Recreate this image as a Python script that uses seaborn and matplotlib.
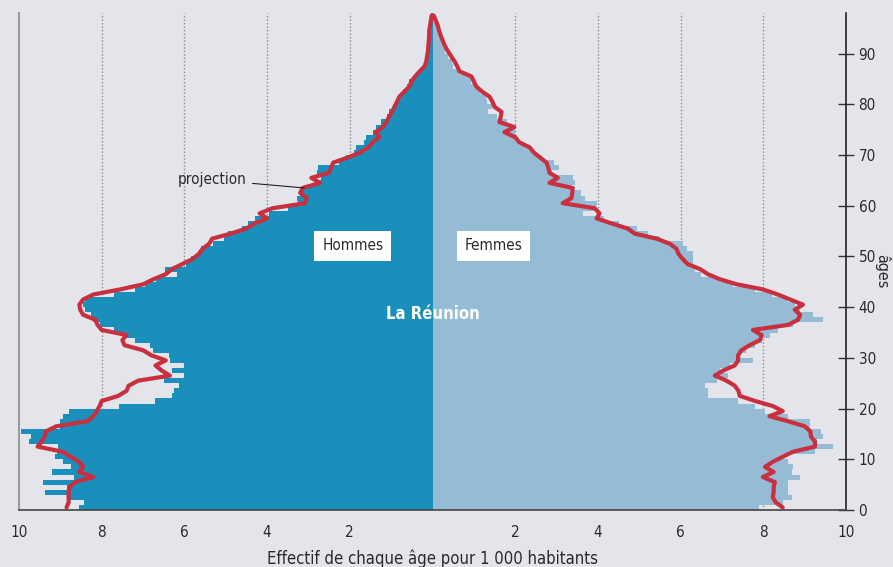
import numpy as np
import pandas as pd
import matplotlib
matplotlib.use("Agg")
import matplotlib.pyplot as plt
import seaborn as sns
from matplotlib import font_manager

# ==========================
# DONNÉES (pour 1 000 habitants)
# ==========================
ages = list(range(0, 98))

hommes = [8.56, 8.44, 8.83, 9.38, 8.83, 9.42, 8.66, 9.20, 8.75, 8.94,
          9.14, 9.09, 9.05, 9.75, 9.70, 9.94, 9.00, 9.00, 8.94, 8.78,
          7.57, 6.70, 6.30, 6.26, 6.12, 6.50, 6.02, 6.31, 6.02, 6.35,
          6.38, 6.75, 6.82, 7.20, 7.40, 7.70, 8.05, 8.20, 8.27, 8.40,
          8.46, 8.40, 7.70, 7.20, 6.96, 6.68, 6.17, 6.48, 5.95, 5.83,
          5.64, 5.60, 5.32, 5.05, 4.95, 4.60, 4.45, 4.30, 3.95, 3.50,
          3.25, 3.27, 3.15, 3.10, 2.75, 2.70, 2.80, 2.78, 2.25, 2.08,
          1.90, 1.85, 1.65, 1.60, 1.45, 1.36, 1.25, 1.10, 1.05, 0.95,
          0.87, 0.78, 0.72, 0.62, 0.56, 0.42, 0.30, 0.20, 0.16, 0.14,
          0.12, 0.10, 0.09, 0.07, 0.06, 0.05, 0.04, 0.03]

femmes = [7.89, 8.47, 8.69, 8.60, 8.60, 8.60, 8.89, 8.69, 8.72, 8.60,
          8.45, 9.25, 9.68, 9.30, 9.44, 9.39, 9.13, 9.13, 8.60, 8.05,
          7.80, 7.39, 6.66, 6.66, 6.59, 6.87, 7.15, 6.95, 7.20, 7.75,
          7.39, 7.59, 7.80, 7.97, 8.16, 8.35, 8.72, 9.44, 9.20, 8.89,
          8.76, 8.57, 8.20, 7.80, 7.26, 6.95, 6.49, 6.34, 6.30, 6.30,
          6.30, 6.15, 6.05, 5.50, 5.20, 4.95, 4.50, 4.15, 3.65, 3.95,
          3.97, 3.70, 3.60, 3.35, 3.45, 3.40, 2.90, 3.05, 2.95, 2.65,
          2.45, 2.35, 2.10, 2.05, 2.00, 1.82, 1.80, 1.57, 1.35, 1.45,
          1.33, 1.30, 1.14, 1.10, 0.94, 0.90, 0.65, 0.50, 0.48, 0.37,
          0.30, 0.25, 0.20, 0.16, 0.13, 0.10, 0.07, 0.04]

proj_hommes = [8.85, 8.80, 8.80, 8.80, 8.78, 8.65, 8.20, 8.55, 8.45, 8.55,
               8.75, 8.95, 9.55, 9.45, 9.38, 9.35, 9.10, 8.35, 8.20, 8.12,
               8.05, 8.00, 7.60, 7.40, 7.35, 7.12, 6.35, 6.55, 6.70, 6.45,
               6.80, 7.00, 7.45, 7.50, 7.40, 8.00, 8.10, 8.15, 8.45, 8.52,
               8.54, 8.45, 8.20, 7.55, 7.00, 6.75, 6.45, 6.30, 6.05, 5.80,
               5.65, 5.56, 5.40, 5.33, 4.88, 4.50, 4.30, 4.00, 4.18, 3.87,
               3.08, 3.04, 3.20, 3.14, 2.72, 2.93, 2.50, 2.45, 2.40, 2.05,
               1.75, 1.55, 1.45, 1.28, 1.38, 1.20, 1.12, 1.05, 0.98, 0.92,
               0.86, 0.80, 0.68, 0.56, 0.51, 0.42, 0.31, 0.19, 0.15, 0.13,
               0.11, 0.10, 0.09, 0.08, 0.08, 0.06, 0.04, 0.02]

proj_femmes = [8.47, 8.30, 8.23, 8.25, 8.25, 8.28, 7.99, 8.25, 8.04, 8.23,
               8.47, 8.72, 9.25, 9.25, 9.15, 9.14, 9.00, 8.60, 8.15, 8.47,
               8.23, 7.80, 7.43, 7.40, 7.31, 7.11, 6.83, 7.03, 7.31, 7.39,
               7.39, 7.47, 7.67, 7.92, 7.96, 7.75, 8.60, 8.84, 8.89, 8.76,
               8.96, 8.65, 8.35, 7.99, 7.36, 6.95, 6.66, 6.47, 6.17, 6.05,
               5.95, 5.90, 5.74, 5.42, 4.89, 4.72, 4.33, 3.97, 4.04, 3.92,
               3.15, 3.36, 3.38, 3.39, 2.83, 3.03, 2.83, 2.80, 2.76, 2.60,
               2.45, 2.35, 2.10, 2.00, 1.74, 1.98, 1.62, 1.65, 1.67, 1.50,
               1.45, 1.38, 1.20, 1.06, 1.00, 0.94, 0.65, 0.60, 0.53, 0.45,
               0.37, 0.30, 0.25, 0.20, 0.16, 0.13, 0.08, 0.03]

x_ticks = [-10, -8, -6, -4, -2, 0, 2, 4, 6, 8, 10]
x_labels = ["10", "8", "6", "4", "2", "", "2", "4", "6", "8", "10"]
age_ticks = [0, 10, 20, 30, 40, 50, 60, 70, 80, 90]

df = pd.DataFrame({
    "age": ages,
    "centre": [a + 0.5 for a in ages],
    "hommes": [-v for v in hommes],
    "femmes": femmes,
    "proj_hommes": [-v for v in proj_hommes],
    "proj_femmes": proj_femmes,
})

# ==========================
# STYLE
# ==========================
FOND = "#e4e5ea"
BLEU_H = "#1a8fbb"
BLEU_F = "#96bbd5"
ROUGE = "#c8303f"
TEXTE = "#2a2a2a"

sns.set_style("white")
noms = {f.name for f in font_manager.fontManager.ttflist}
if "Liberation Sans Narrow" in noms:
    plt.rcParams["font.family"] = ["Liberation Sans Narrow", "DejaVu Sans"]
else:
    plt.rcParams["font.family"] = ["DejaVu Sans"]
    plt.rcParams["font.stretch"] = "condensed"

fig = plt.figure(figsize=(8.93, 5.67), dpi=100, facecolor=FOND)
ax = fig.add_axes([19 / 893, 1 - 510 / 567, (846 - 19) / 893, (510 - 13) / 567])
ax.set_facecolor(FOND)

for g in [-8, -6, -4, -2, 2, 4, 6, 8]:
    ax.axvline(g, color="#8a8a8a", lw=1, ls=(0, (1, 1.5)), zorder=0)

# ==========================
# PYRAMIDE
# ==========================
sns.barplot(data=df, x="hommes", y="centre", orient="y", native_scale=True,
            width=1, color=BLEU_H, saturation=1, linewidth=0, errorbar=None,
            ax=ax, zorder=2)
sns.barplot(data=df, x="femmes", y="centre", orient="y", native_scale=True,
            width=1, color=BLEU_F, saturation=1, linewidth=0, errorbar=None,
            ax=ax, zorder=2)

sns.lineplot(data=df, x="proj_hommes", y="centre", sort=False, estimator=None,
             color=ROUGE, lw=3, ax=ax, zorder=4)
sns.lineplot(data=df, x="proj_femmes", y="centre", sort=False, estimator=None,
             color=ROUGE, lw=3, ax=ax, zorder=4)

# ==========================
# AXES
# ==========================
ax.set_xlim(-10, 10)
ax.set_ylim(0, 98)
ax.set_xticks(x_ticks)
ax.set_xticklabels(x_labels)
ax.yaxis.tick_right()
ax.yaxis.set_label_position("right")
ax.set_yticks(age_ticks)
ax.tick_params(axis="x", direction="out", length=5, width=1, colors="#333333",
               labelsize=11, pad=6, labelcolor=TEXTE)
ax.tick_params(axis="y", direction="inout", length=12, width=1, colors="#333333",
               labelsize=11, pad=3, labelcolor=TEXTE)

ax.spines["top"].set_visible(False)
ax.spines["left"].set_color("#8a8a8a")
ax.spines["bottom"].set_color("#444444")
ax.spines["right"].set_color("#222222")
for s in ["left", "bottom", "right"]:
    ax.spines[s].set_linewidth(1.2)

ax.set_xlabel("Effectif de chaque âge pour 1 000 habitants", fontsize=12,
              color=TEXTE, labelpad=7)
ax.set_ylabel("âges", fontsize=11.5, color=TEXTE, rotation=270,
              va="center", ha="center")
ax.yaxis.set_label_coords(1.044, 0.48)

# ==========================
# TEXTES
# ==========================
boite = dict(facecolor="white", edgecolor="none", boxstyle="square,pad=0.5")
ax.text(-1.93, 52.1, "Hommes", ha="center", va="center", fontsize=11,
        color=TEXTE, bbox=boite, zorder=5)
ax.text(1.48, 52.1, "Femmes", ha="center", va="center", fontsize=11,
        color=TEXTE, bbox=boite, zorder=5)
ax.text(0, 38.6, "La Réunion", ha="center", va="center", fontsize=12,
        fontweight="bold", color="white", zorder=5)
ax.annotate("projection", xy=(-3.1, 63.5), xytext=(-4.5, 65.1),
            ha="right", va="center", fontsize=11, color=TEXTE,
            arrowprops=dict(arrowstyle="-", color="#222222", lw=0.8,
                            shrinkA=2, shrinkB=0), zorder=5)

fig.savefig("out.png", dpi=100, facecolor=FOND)
